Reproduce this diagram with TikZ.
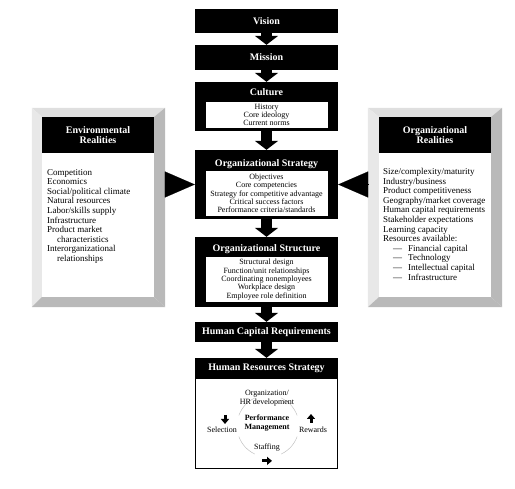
\documentclass[tikz,border=0pt]{standalone}
\usepackage{fontspec}
\setmainfont{Liberation Serif}
\usetikzlibrary{arrows.meta, positioning}

\tikzstyle{blackbox} = [fill=black, text=white, font=\fontsize{10}{11}\selectfont\bfseries, minimum width=143pt, inner sep=0pt]
\tikzstyle{title} = [text=white, font=\fontsize{10}{11}\selectfont\bfseries, text height=7pt, text depth=2pt, inner sep=0pt]
\tikzstyle{listbox} = [fill=white, minimum width=122pt, inner sep=0pt, align=center, font=\fontsize{8}{8.3}\selectfont]
\tikzstyle{sidelist} = [anchor=north west, align=left, inner sep=0pt, font=\fontsize{9}{9.6}\selectfont]
\tikzstyle{hrtext} = [align=center, inner sep=1pt, font=\fontsize{8}{9}\selectfont]
\tikzstyle{downarrow} = [line width=11pt, -{Triangle[width=23pt,length=9pt]}]
\tikzstyle{sidearrow} = [line width=0.1pt, -{Triangle[width=26pt,length=30pt]}]
\tikzstyle{smallarrow} = [line width=3pt, -{Triangle[width=8pt,length=5pt]}]

\begin{document}
\begin{tikzpicture}[x=1pt, y=-1pt]

    \useasboundingbox (0,0) rectangle (515,489);

    % Central chain
    \node[blackbox, minimum height=24pt] (vision) at (266.5,21) {Vision};
    \node[blackbox, minimum height=25pt] (mission) at (266.5,57.5) {Mission};

    \node[blackbox, minimum height=49pt] (culture) at (266.5,106.5) {};
    \node[title] (culturetitle) at (266.5,93) {Culture};
    \node[listbox, minimum height=26pt] (culturelist) at (266.5,115) {History\\Core ideology\\Current norms};

    \node[blackbox, minimum height=69pt] (strategy) at (266.5,184.5) {};
    \node[title] (strategytitle) at (266.5,164) {Organizational Strategy};
    \node[listbox, minimum height=45pt] (strategylist) at (266.5,193.5) {Objectives\\Core competencies\\Strategy for competitive advantage\\Critical success factors\\Performance criteria/standards};

    \node[blackbox, minimum height=70pt] (structure) at (266.5,272) {};
    \node[title] (structuretitle) at (266.5,249) {Organizational Structure};
    \node[listbox, minimum height=45pt] (structurelist) at (266.5,279.5) {Structural design\\Function/unit relationships\\Coordinating nonemployees\\Workplace design\\Employee role definition};

    \node[blackbox, minimum height=20pt] (hcr) at (266.5,332) {Human Capital Requirements};

    \node[blackbox, minimum height=20pt] (hrs) at (266.5,368) {Human Resources Strategy};
    \node[draw=black, line width=0.6pt, fill=white, minimum width=142pt, minimum height=90pt, inner sep=0pt, anchor=north] (hrsbody) at (hrs.south) {};

    \draw[downarrow] (vision.south) -- (mission.north);
    \draw[downarrow] (mission.south) -- (culture.north);
    \draw[downarrow] (culture.south) -- (strategy.north);
    \draw[downarrow] (strategy.south) -- (structure.north);
    \draw[downarrow] (structure.south) -- (hcr.north);
    \draw[downarrow] (hcr.south) -- (hrs.north);

    % Performance management cycle
    \coordinate (hub) at (268,426);
    \foreach \a in {20,115,200,295}
        \draw[gray!55, line width=0.4pt] ([shift={(\a:31)}]hub) arc (\a:\a+45:31);
    \node[hrtext] (orgdev) at (267,398.5) {Organization/\\HR development};
    \node[hrtext, font=\fontsize{8}{9}\selectfont\bfseries] (perf) at (267,423) {Performance\\Management};
    \node[hrtext] (selection) at (222,430) {Selection};
    \node[hrtext] (rewards) at (313,430) {Rewards};
    \node[hrtext] (staffing) at (267,448) {Staffing};
    \draw[smallarrow] ([shift={(3,-11)}]selection.north) -- ([shift={(3,-2)}]selection.north);
    \draw[smallarrow] ([shift={(-2,-3)}]rewards.north) -- ([shift={(-2,-12)}]rewards.north);
    \draw[smallarrow] ([shift={(-5,8)}]staffing.south) -- ([shift={(5,8)}]staffing.south);

    % Environmental realities
    \node[minimum width=133pt, minimum height=199pt, inner sep=0pt] (env) at (98.5,207.5) {};
    \node[minimum width=112pt, minimum height=180pt, inner sep=0pt] (envin) at (98,207) {};
    \fill[gray!25] (env.north west) -- (env.north east) -- (envin.north east) -- (envin.north west) -- cycle;
    \fill[gray!18] (env.north west) -- (envin.north west) -- (envin.south west) -- (env.south west) -- cycle;
    \fill[gray!55] (env.north east) -- (env.south east) -- (envin.south east) -- (envin.north east) -- cycle;
    \fill[gray!55] (env.south west) -- (env.south east) -- (envin.south east) -- (envin.south west) -- cycle;
    \fill[white] (envin.north west) rectangle (envin.south east);
    \node[fill=black, text=white, minimum width=112pt, minimum height=36pt, inner sep=0pt, anchor=north, align=center, font=\fontsize{10}{10}\selectfont\bfseries] (envhead) at (envin.north) {Environmental\\Realities};
    \node[sidelist] (envlist) at (47,169) {Competition\\Economics\\Social/political climate\\Natural resources\\Labor/skills supply\\Infrastructure\\Product market\\\hspace*{10pt}characteristics\\Interorganizational\\\hspace*{10pt}relationships};

    % Organizational realities
    \node[minimum width=134pt, minimum height=199pt, inner sep=0pt] (org) at (435,207.5) {};
    \node[minimum width=112pt, minimum height=180pt, inner sep=0pt] (orgin) at (435,207) {};
    \fill[gray!25] (org.north west) -- (org.north east) -- (orgin.north east) -- (orgin.north west) -- cycle;
    \fill[gray!18] (org.north west) -- (orgin.north west) -- (orgin.south west) -- (org.south west) -- cycle;
    \fill[gray!55] (org.north east) -- (org.south east) -- (orgin.south east) -- (orgin.north east) -- cycle;
    \fill[gray!55] (org.south west) -- (org.south east) -- (orgin.south east) -- (orgin.south west) -- cycle;
    \fill[white] (orgin.north west) rectangle (orgin.south east);
    \node[fill=black, text=white, minimum width=112pt, minimum height=36pt, inner sep=0pt, anchor=north, align=center, font=\fontsize{10}{10}\selectfont\bfseries] (orghead) at (orgin.north) {Organizational\\Realities};
    \node[sidelist] (orglist) at (383,168) {Size/complexity/maturity\\Industry/business\\Product competitiveness\\Geography/market coverage\\Human capital requirements\\Stakeholder expectations\\Learning capacity\\Resources available:\\\hspace*{10pt}---\hspace{6pt}Financial capital\\\hspace*{10pt}---\hspace{6pt}Technology\\\hspace*{10pt}---\hspace{6pt}Intellectual capital\\\hspace*{10pt}---\hspace{6pt}Infrastructure};

    % Pointers into the strategy box
    \draw[sidearrow] (strategy.west -| env.east) -- (strategy.west);
    \draw[sidearrow] (strategy.east -| org.west) -- (strategy.east);

\end{tikzpicture}
\end{document}
